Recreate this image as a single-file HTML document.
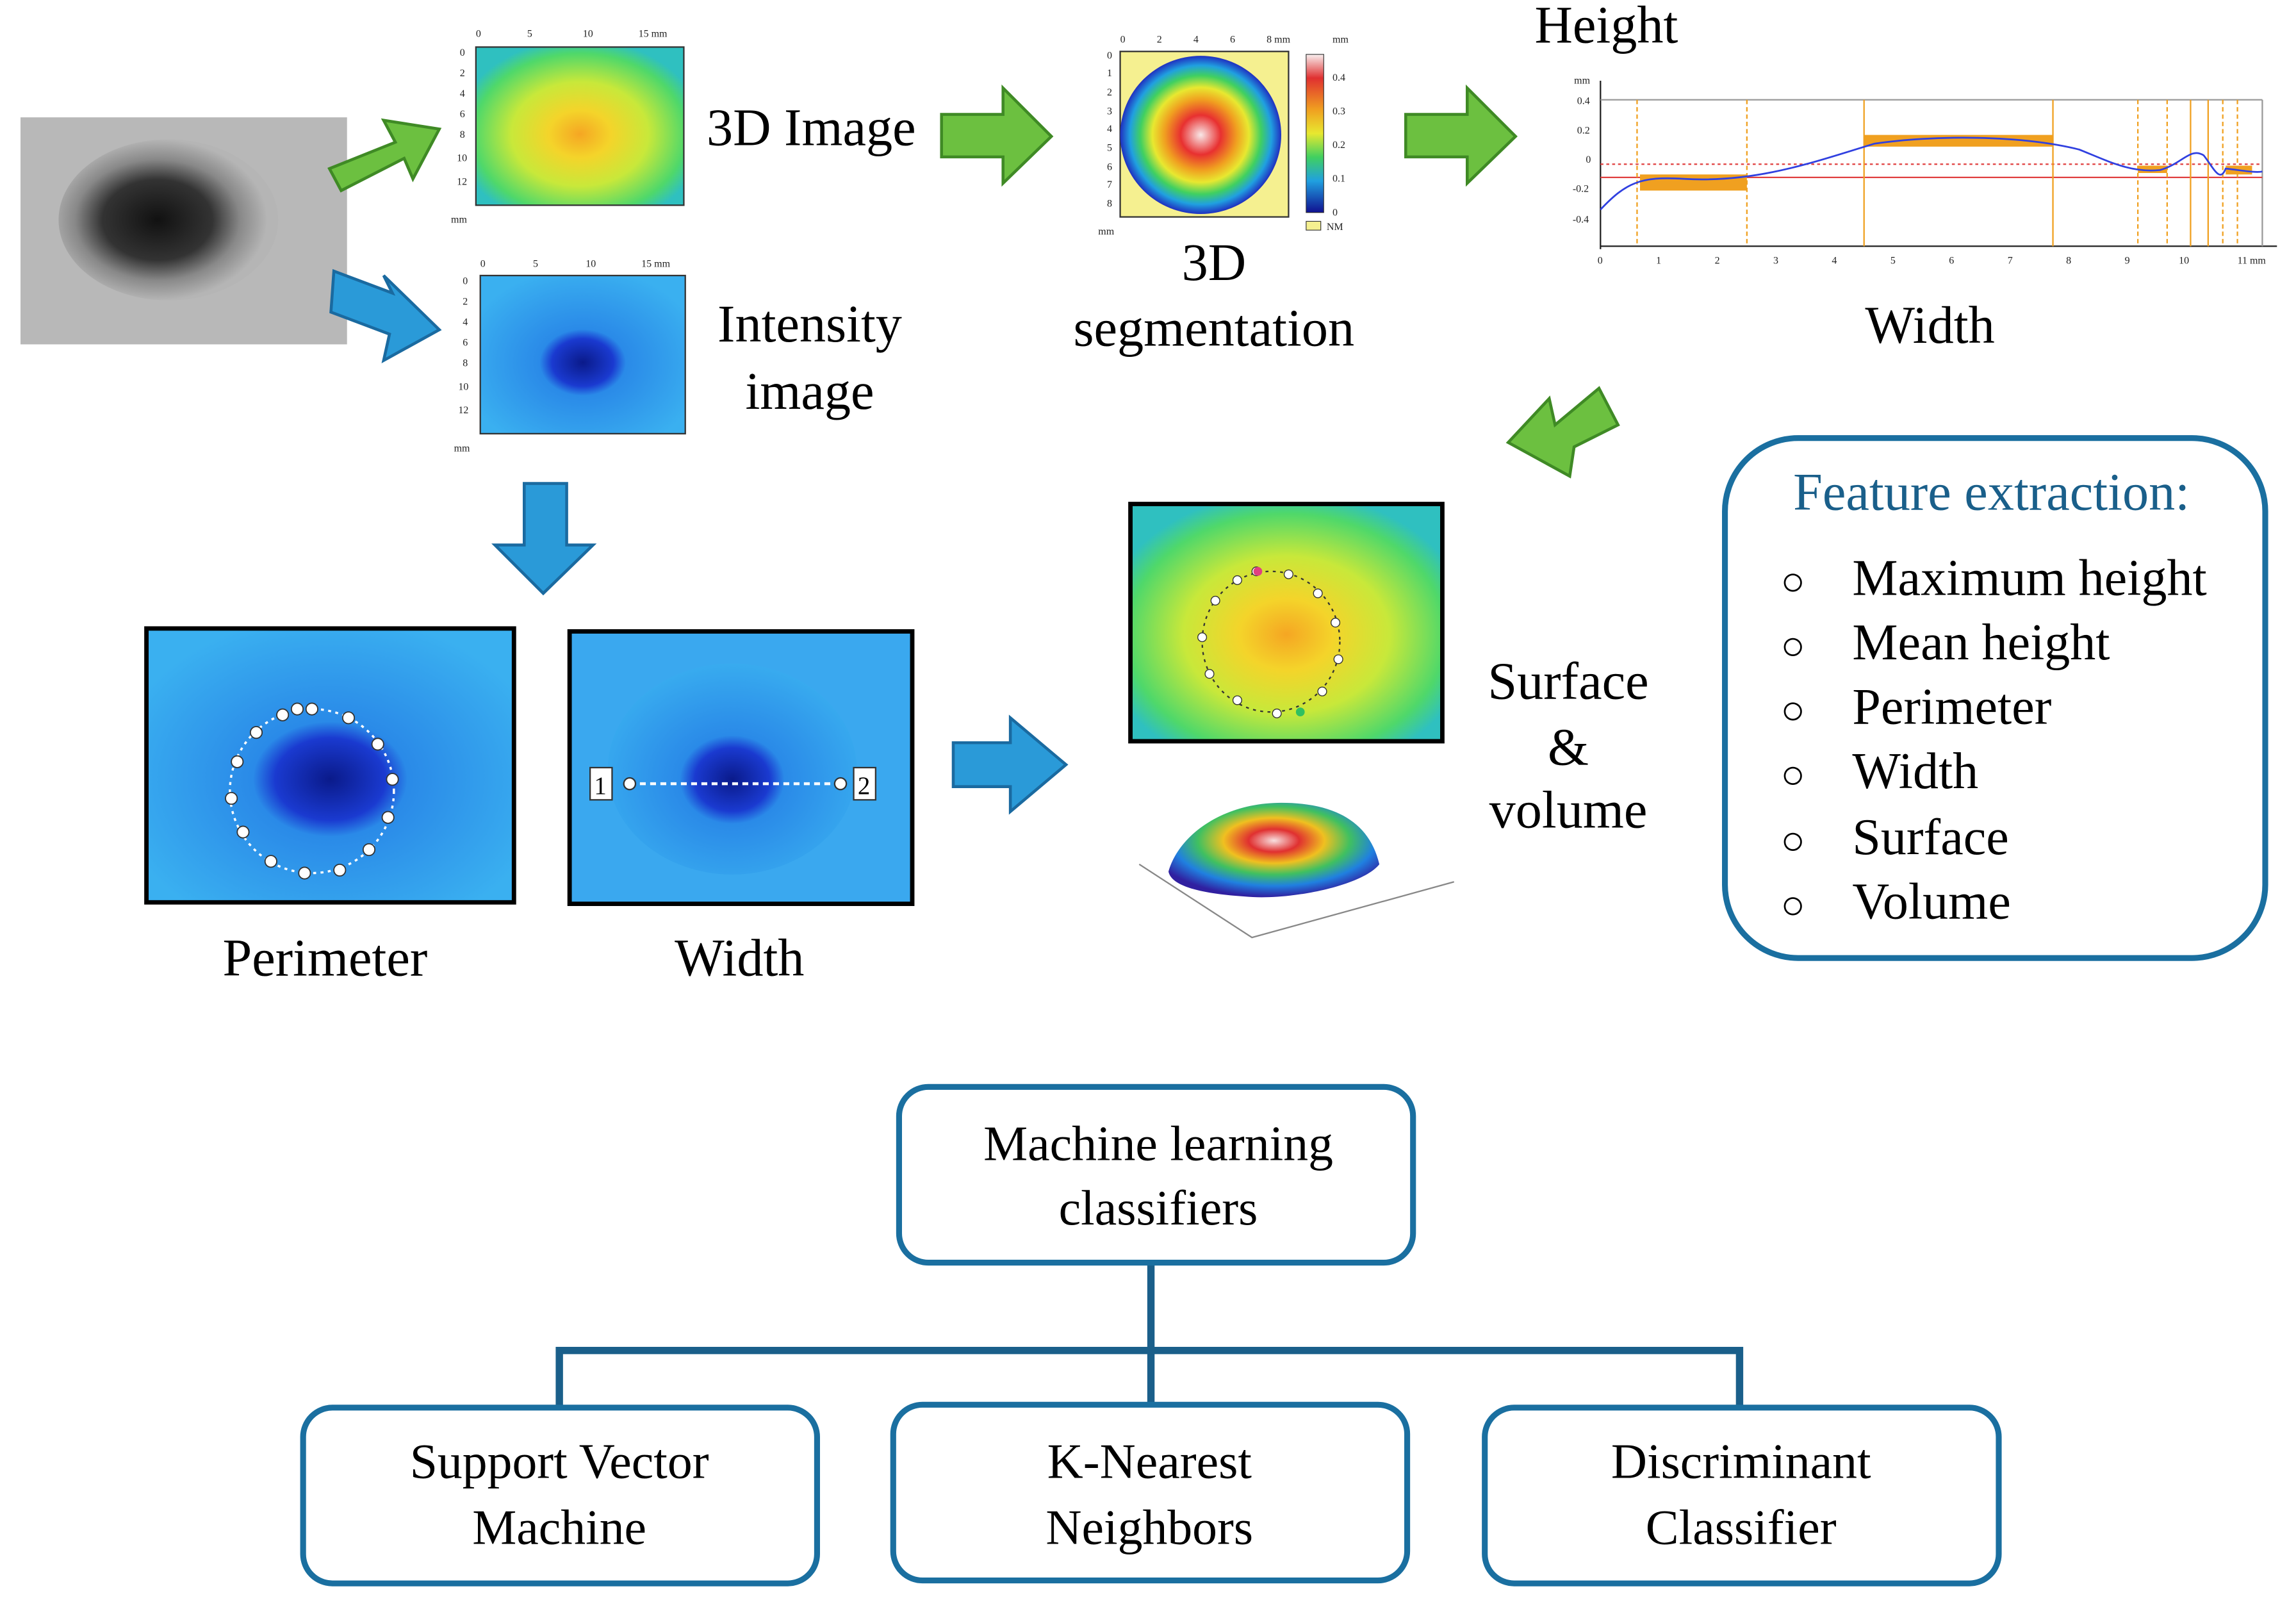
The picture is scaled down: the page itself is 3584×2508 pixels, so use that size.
<!DOCTYPE html>
<html><head><meta charset="utf-8"><style>
html,body{margin:0;padding:0;background:#fff;}
svg{display:block;}
text{font-family:"Liberation Serif",serif;}
</style></head><body>
<svg width="3584" height="2508" viewBox="0 0 1568 1097" xmlns="http://www.w3.org/2000/svg">
<defs>
<radialGradient id="g3d" cx="0.5" cy="0.55" r="0.6">
<stop offset="0" stop-color="#f5a623"/><stop offset="0.25" stop-color="#f4d42a"/><stop offset="0.55" stop-color="#c8e83a"/><stop offset="0.85" stop-color="#4fd86a"/><stop offset="1" stop-color="#2fc0c0"/>
</radialGradient>
<radialGradient id="gint" cx="0.5" cy="0.55" r="0.6">
<stop offset="0" stop-color="#0a1a8a"/><stop offset="0.25" stop-color="#1a3ad0"/><stop offset="0.35" stop-color="#2a8ae8"/><stop offset="1" stop-color="#3ab0f0"/>
</radialGradient>
<radialGradient id="gseg" cx="0.5" cy="0.5" r="0.5">
<stop offset="0" stop-color="#f8e8e8"/><stop offset="0.25" stop-color="#e83030"/><stop offset="0.45" stop-color="#f0a020"/><stop offset="0.6" stop-color="#e8e830"/><stop offset="0.75" stop-color="#40d060"/><stop offset="0.88" stop-color="#20a0e0"/><stop offset="1" stop-color="#2030c0"/>
</radialGradient>
<radialGradient id="gskin" cx="0.45" cy="0.5" r="0.5">
<stop offset="0" stop-color="#111"/><stop offset="0.5" stop-color="#333"/><stop offset="0.75" stop-color="#888"/><stop offset="1" stop-color="#b5b5b5"/>
</radialGradient>
<radialGradient id="gblob" cx="0.5" cy="0.4" r="0.6">
<stop offset="0" stop-color="#f8e0e0"/><stop offset="0.2" stop-color="#e03030"/><stop offset="0.4" stop-color="#f0c020"/><stop offset="0.6" stop-color="#40c060"/><stop offset="0.8" stop-color="#2080e0"/><stop offset="1" stop-color="#3020a0"/>
</radialGradient>
<linearGradient id="cbar" x1="0" y1="0" x2="0" y2="1">
<stop offset="0" stop-color="#f8f0f0"/><stop offset="0.15" stop-color="#e03030"/><stop offset="0.35" stop-color="#f0a020"/><stop offset="0.5" stop-color="#e8e830"/><stop offset="0.65" stop-color="#40d060"/><stop offset="0.8" stop-color="#20a0e0"/><stop offset="1" stop-color="#101090"/>
</linearGradient>
</defs>

<rect x="14" y="80" width="223" height="155" fill="#b8b8b8"/>
<ellipse cx="115" cy="150" rx="75" ry="55" fill="url(#gskin)"/>

<polygon points="225,115 270,97 262,82 300,88 282,122 276,108 233,130" fill="#6cc040" stroke="#3f8a25" stroke-width="2"/>
<polygon points="228,185 268,200 262,188 300,225 262,246 266,228 226,213" fill="#2a9ad8" stroke="#1a6aa0" stroke-width="2"/>

<rect x="325" y="32" width="142" height="108" fill="url(#g3d)" stroke="#333" stroke-width="1"/>
<g font-size="7" fill="#222" font-family="Liberation Sans">
<text x="325" y="25">0</text><text x="360" y="25">5</text><text x="398" y="25">10</text><text x="436" y="25">15 mm</text>
<text x="314" y="38">0</text><text x="314" y="52">2</text><text x="314" y="66">4</text><text x="314" y="80">6</text><text x="314" y="94">8</text><text x="312" y="110">10</text><text x="312" y="126">12</text><text x="308" y="152">mm</text>
</g>
<text x="554" y="99" font-size="36" text-anchor="middle">3D Image</text>

<rect x="328" y="188" width="140" height="108" fill="url(#gint)" stroke="#333" stroke-width="1"/>
<g font-size="7" fill="#222" font-family="Liberation Sans">
<text x="328" y="182">0</text><text x="364" y="182">5</text><text x="400" y="182">10</text><text x="438" y="182">15 mm</text>
<text x="316" y="194">0</text><text x="316" y="208">2</text><text x="316" y="222">4</text><text x="316" y="236">6</text><text x="316" y="250">8</text><text x="313" y="266">10</text><text x="313" y="282">12</text><text x="310" y="308">mm</text>
</g>
<text x="553" y="233" font-size="36" text-anchor="middle">Intensity</text>
<text x="553" y="279" font-size="36" text-anchor="middle">image</text>

<polygon points="643,78 685,78 685,60 718,93 685,125 685,107 643,107" fill="#6cc040" stroke="#3f8a25" stroke-width="2"/>

<rect x="765" y="35" width="115" height="113" fill="#f5f090" stroke="#333" stroke-width="1"/>
<ellipse cx="820" cy="92" rx="55" ry="54" fill="url(#gseg)"/>
<rect x="892" y="37" width="12" height="108" fill="url(#cbar)" stroke="#333" stroke-width="0.5"/>
<rect x="892" y="151" width="10" height="6" fill="#f5f090" stroke="#333" stroke-width="0.5"/>
<g font-size="7" fill="#222" font-family="Liberation Sans">
<text x="765" y="29">0</text><text x="790" y="29">2</text><text x="815" y="29">4</text><text x="840" y="29">6</text><text x="865" y="29">8 mm</text><text x="910" y="29">mm</text>
<text x="756" y="40">0</text><text x="756" y="52">1</text><text x="756" y="65">2</text><text x="756" y="78">3</text><text x="756" y="90">4</text><text x="756" y="103">5</text><text x="756" y="116">6</text><text x="756" y="128">7</text><text x="756" y="141">8</text><text x="750" y="160">mm</text>
<text x="910" y="55">0.4</text><text x="910" y="78">0.3</text><text x="910" y="101">0.2</text><text x="910" y="124">0.1</text><text x="910" y="147">0</text><text x="906" y="157">NM</text>
</g>
<text x="829" y="191" font-size="36" text-anchor="middle">3D</text>
<text x="829" y="236" font-size="36" text-anchor="middle">segmentation</text>

<polygon points="960,78 1002,78 1002,60 1035,93 1002,125 1002,107 960,107" fill="#6cc040" stroke="#3f8a25" stroke-width="2"/>

<text x="1097" y="29" font-size="36" text-anchor="middle">Height</text>
<g stroke="#222" stroke-width="1" fill="none">
<line x1="1093" y1="55" x2="1093" y2="170"/>
<line x1="1093" y1="168" x2="1555" y2="168"/>
<line x1="1093" y1="68" x2="1545" y2="68" stroke="#999"/>
<line x1="1545" y1="68" x2="1545" y2="168" stroke="#999"/>
</g>
<line x1="1093" y1="112" x2="1545" y2="112" stroke="#e04040" stroke-dasharray="2,2"/>
<line x1="1093" y1="121" x2="1545" y2="121" stroke="#e04040"/>
<g stroke="#f0a020" stroke-width="1">
<line x1="1118" y1="68" x2="1118" y2="168" stroke-dasharray="3,2"/><line x1="1193" y1="68" x2="1193" y2="168" stroke-dasharray="3,2"/>
<line x1="1273" y1="68" x2="1273" y2="168"/><line x1="1402" y1="68" x2="1402" y2="168"/>
<line x1="1460" y1="68" x2="1460" y2="168" stroke-dasharray="3,2"/><line x1="1480" y1="68" x2="1480" y2="168" stroke-dasharray="3,2"/>
<line x1="1496" y1="68" x2="1496" y2="168"/><line x1="1508" y1="68" x2="1508" y2="168"/><line x1="1518" y1="68" x2="1518" y2="168" stroke-dasharray="3,2"/><line x1="1528" y1="68" x2="1528" y2="168" stroke-dasharray="3,2"/>
</g>
<rect x="1120" y="119" width="73" height="11" fill="#f0a020"/>
<rect x="1273" y="92" width="129" height="8" fill="#f0a020"/>
<rect x="1460" y="113" width="20" height="5" fill="#f0a020"/>
<rect x="1520" y="113" width="18" height="6" fill="#f0a020"/>
<path d="M1093,143 C1110,125 1120,120 1150,122 C1200,125 1240,110 1280,98 C1320,92 1380,92 1420,102 C1440,110 1455,118 1475,116 C1490,112 1496,100 1505,106 C1512,115 1516,125 1520,115 C1530,116 1540,118 1545,117" fill="none" stroke="#3040e0" stroke-width="1.2"/>
<g font-size="7" fill="#222" font-family="Liberation Sans">
<text x="1075" y="57">mm</text><text x="1077" y="71">0.4</text><text x="1077" y="91">0.2</text><text x="1083" y="111">0</text><text x="1074" y="131">-0.2</text><text x="1074" y="152">-0.4</text>
<text x="1091" y="180">0</text><text x="1131" y="180">1</text><text x="1171" y="180">2</text><text x="1211" y="180">3</text><text x="1251" y="180">4</text><text x="1291" y="180">5</text><text x="1331" y="180">6</text><text x="1371" y="180">7</text><text x="1411" y="180">8</text><text x="1451" y="180">9</text><text x="1488" y="180">10</text><text x="1528" y="180">11 mm</text>
</g>
<text x="1318" y="234" font-size="36" text-anchor="middle">Width</text>

<polygon points="1092,265 1105,290 1075,305 1072,325 1030,302 1058,272 1062,290" fill="#6cc040" stroke="#3f8a25" stroke-width="2"/>

<polygon points="358,330 387,330 387,372 405,372 371,405 338,372 358,372" fill="#2a9ad8" stroke="#1a6aa0" stroke-width="2"/>

<rect x="100" y="429" width="251" height="187" fill="url(#gint)" stroke="#000" stroke-width="3"/>
<ellipse cx="213" cy="540" rx="56" ry="56" fill="none" stroke="#fff" stroke-width="1.5" stroke-dasharray="2,3"/>
<g fill="#fff" stroke="#333" stroke-width="0.8">
<circle cx="213" cy="484" r="4"/><circle cx="238" cy="490" r="4"/><circle cx="258" cy="508" r="4"/><circle cx="268" cy="532" r="4"/><circle cx="265" cy="558" r="4"/><circle cx="252" cy="580" r="4"/><circle cx="232" cy="594" r="4"/><circle cx="208" cy="596" r="4"/><circle cx="185" cy="588" r="4"/><circle cx="166" cy="568" r="4"/><circle cx="158" cy="545" r="4"/><circle cx="162" cy="520" r="4"/><circle cx="175" cy="500" r="4"/><circle cx="193" cy="488" r="4"/><circle cx="203" cy="484" r="4"/>
</g>
<text x="222" y="666" font-size="36" text-anchor="middle">Perimeter</text>

<rect x="389" y="431" width="234" height="186" fill="#3aa8ef" stroke="#000" stroke-width="3"/>
<ellipse cx="500" cy="525" rx="85" ry="72" fill="url(#gint)"/>
<line x1="430" y1="535" x2="574" y2="535" stroke="#fff" stroke-width="2" stroke-dasharray="4,3"/>
<circle cx="430" cy="535" r="4" fill="#fff" stroke="#333"/><circle cx="574" cy="535" r="4" fill="#fff" stroke="#333"/>
<rect x="403" y="524" width="15" height="22" fill="#fff" stroke="#333"/><text x="410" y="542" font-size="17" text-anchor="middle" font-family="Liberation Sans">1</text>
<rect x="583" y="524" width="15" height="22" fill="#fff" stroke="#333"/><text x="590" y="542" font-size="17" text-anchor="middle" font-family="Liberation Sans">2</text>
<text x="505" y="666" font-size="36" text-anchor="middle">Width</text>

<polygon points="651,507 690,507 690,490 728,522 690,554 690,537 651,537" fill="#2a9ad8" stroke="#1a6aa0" stroke-width="2"/>

<rect x="772" y="344" width="213" height="162" fill="url(#g3d)" stroke="#000" stroke-width="3"/>
<ellipse cx="868" cy="438" rx="47" ry="48" fill="none" stroke="#333" stroke-width="1" stroke-dasharray="2,3"/>
<g fill="#fff" stroke="#333" stroke-width="0.6">
<circle cx="858" cy="390" r="3"/><circle cx="880" cy="392" r="3"/><circle cx="900" cy="405" r="3"/><circle cx="912" cy="425" r="3"/><circle cx="914" cy="450" r="3"/><circle cx="903" cy="472" r="3"/><circle cx="872" cy="487" r="3"/><circle cx="845" cy="478" r="3"/><circle cx="826" cy="460" r="3"/><circle cx="821" cy="435" r="3"/><circle cx="830" cy="410" r="3"/><circle cx="845" cy="396" r="3"/>
</g>
<circle cx="859" cy="390" r="3" fill="#e04080"/><circle cx="888" cy="486" r="3" fill="#30c060"/>

<polyline points="778,590 855,640 993,602" fill="none" stroke="#888" stroke-width="1"/>
<path d="M798,595 C805,570 835,548 875,548 C910,548 935,560 942,590 C930,605 880,615 850,612 C820,610 800,605 798,595 Z" fill="url(#gblob)"/>
<text x="1071" y="477" font-size="36" text-anchor="middle">Surface</text>
<text x="1071" y="522" font-size="36" text-anchor="middle">&amp;</text>
<text x="1071" y="565" font-size="36" text-anchor="middle">volume</text>

<rect x="1178" y="299" width="369" height="355" rx="50" fill="none" stroke="#1a6fa0" stroke-width="4"/>
<text x="1360" y="348" font-size="36" text-anchor="middle" fill="#1a5f8a">Feature extraction:</text>
<g font-size="35">
<text x="1216" y="406" font-size="28">○</text><text x="1265" y="406">Maximum height</text>
<text x="1216" y="450" font-size="28">○</text><text x="1265" y="450">Mean height</text>
<text x="1216" y="494" font-size="28">○</text><text x="1265" y="494">Perimeter</text>
<text x="1216" y="538" font-size="28">○</text><text x="1265" y="538">Width</text>
<text x="1216" y="583" font-size="28">○</text><text x="1265" y="583">Surface</text>
<text x="1216" y="627" font-size="28">○</text><text x="1265" y="627">Volume</text>
</g>

<g stroke="#1a5f8a" stroke-width="5" fill="none">
<line x1="786" y1="862" x2="786" y2="960"/>
<polyline points="382,960 382,922 1188,922 1188,960"/>
</g>
<g fill="#fff" stroke="#1a6fa0" stroke-width="4">
<rect x="614" y="742" width="351" height="120" rx="20"/>
<rect x="207" y="961" width="351" height="120" rx="20"/>
<rect x="610" y="959" width="351" height="120" rx="20"/>
<rect x="1014" y="961" width="351" height="120" rx="20"/>
</g>
<g font-size="34" text-anchor="middle">
<text x="791" y="792">Machine learning</text><text x="791" y="836">classifiers</text>
<text x="382" y="1009">Support Vector</text><text x="382" y="1054">Machine</text>
<text x="785" y="1009">K-Nearest</text><text x="785" y="1054">Neighbors</text>
<text x="1189" y="1009">Discriminant</text><text x="1189" y="1054">Classifier</text>
</g>
</svg>
</body></html>
